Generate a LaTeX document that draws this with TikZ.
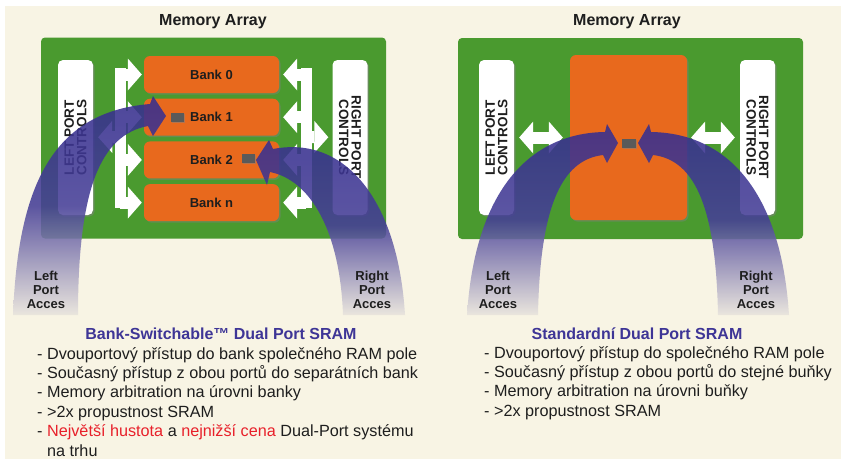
\documentclass[tikz,border=0pt]{standalone}
\usepackage{fontspec}
\setmainfont{Liberation Sans}
\usepackage{tikz}
\usetikzlibrary{positioning,shapes,shadows,arrows.meta}

\definecolor{cream}{HTML}{F8F4E4}
\definecolor{boardgreen}{HTML}{4A9A2F}
\definecolor{bankorange}{HTML}{E8691D}
\definecolor{arcpurple}{HTML}{362E8E}
\definecolor{titlepurple}{HTML}{3E3596}
\definecolor{hotred}{HTML}{E8202A}
\definecolor{cellgray}{HTML}{5A5A5A}
\definecolor{inktext}{HTML}{1E1E1E}

\tikzstyle{board}=[rectangle, fill=boardgreen, rounded corners=4pt, minimum width=345pt, minimum height=201pt, inner sep=0]
\tikzstyle{bank}=[rectangle, fill=bankorange, rounded corners=6pt, minimum width=135pt, minimum height=37pt, inner sep=0, text centered, text=inktext, font=\bfseries\fontsize{13}{15}\selectfont, drop shadow={shadow xshift=1.5pt, shadow yshift=-1.5pt, opacity=0.45}]
\tikzstyle{ctrlbox}=[rectangle, fill=white, rounded corners=5pt, minimum width=35pt, minimum height=155pt, inner sep=0, drop shadow={shadow xshift=1.5pt, shadow yshift=-1.5pt, opacity=0.5}]
\tikzstyle{ctrltext}=[align=center, text=inktext, inner sep=0, font=\bfseries\fontsize{13.5}{12.5}\selectfont]
\tikzstyle{cell}=[rectangle, fill=cellgray, minimum width=13pt, minimum height=9pt, inner sep=0, drop shadow={shadow xshift=1pt, shadow yshift=-1pt, opacity=0.5}]
\tikzstyle{arraytitle}=[text=inktext, font=\bfseries\fontsize{16}{19}\selectfont]
\tikzstyle{accesstext}=[align=center, text=inktext, inner sep=0, font=\bfseries\fontsize{13}{14}\selectfont]
\tikzstyle{headtext}=[text=titlepurple, inner sep=0, font=\bfseries\fontsize{16}{19}\selectfont]
\tikzstyle{listtext}=[align=left, text=inktext, inner sep=0, font=\fontsize{16.2}{19.4}\selectfont]
\tikzset{>={Triangle[width=32pt,length=14pt,line width=0pt]}}
\tikzset{busarrow/.style={draw=white, line width=12pt, ->},
         busbar/.style={draw=white, line width=11pt},
         arcband/.style={top color=arcpurple, bottom color=arcpurple!8!cream, middle color=arcpurple!92!white, fill opacity=0.88}}

\begin{document}
\begin{tikzpicture}[x=1pt, y=-1pt]
    \useasboundingbox (0,0) rectangle (841,459);
    \fill[white] (0,0) rectangle (841,459);
    \fill[cream] (5,6) rectangle (841,459);

    % bank-switchable array
    \node (titleL) [arraytitle] at (213,22) {Memory Array};
    \node (boardL) [board] at (213.5,138) {};
    \node (lpcL) [ctrlbox] at (75.5,137.5) {};
    \node (lpcLtext) [ctrltext, rotate=90] at (lpcL) {LEFT PORT\\CONTROLS};
    \node (rpcL) [ctrlbox] at (350,137.5) {};
    \node (rpcLtext) [ctrltext, rotate=-90] at (rpcL) {RIGHT PORT\\CONTROLS};

    \node (bank0) [bank] at (211.5,74.5) {Bank 0};
    \foreach \b [remember=\b as \lastb (initially 0)] in {1,2,n}{
        \node (bank\b) [bank, below=5.3pt of bank\lastb] {Bank \b};
    };

    \coordinate (busLtop) at (120,68);
    \coordinate (busLbot) at (120,208);
    \coordinate (busRtop) at (306,68);
    \coordinate (busRbot) at (306,208);
    \draw [busbar] (busLtop) -- (busLbot);
    \draw [busbar] (busRtop) -- (busRbot);
    \foreach \b in {0,1,2,n}{
        \draw [busarrow, shorten >=2pt] (busLtop|-bank\b) -- (bank\b.west);
        \draw [busarrow, shorten >=4pt] (busRtop|-bank\b) -- (bank\b.east);
    };
    \coordinate (busLport) at (120,137);
    \coordinate (busRport) at (306,137);
    \draw [busarrow, shorten >=5pt] (busLport) -- (lpcL);
    \draw [busarrow, shorten >=4pt] (busRport) -- (rpcL);

    % port access arcs
    \shade [arcband] (13,315) .. controls (18,190) and (50,112) .. (150,104) -- (153,96) -- (166,116) -- (153,136) -- (148,126) .. controls (100,135) and (78,190) .. (78,315) -- cycle;
    \shade [arcband] (405,315) .. controls (398,200) and (345,135) .. (273,149) -- (269,140) -- (256,160) -- (267,185) -- (270,172) .. controls (310,180) and (340,230) .. (343,315) -- cycle;

    \node (cell1) [cell] at (177.5,117.5) {};
    \node (cell2) [cell] at (248.5,158.5) {};

    \node (lpaL) [accesstext] at (46,290) {Left\\Port\\Acces};
    \node (rpaL) [accesstext] at (372,290) {Right\\Port\\Acces};

    \node (headL) [headtext, anchor=base] at (221,339) {Bank-Switchable™ Dual Port SRAM};
    \node (listL) [listtext, anchor=base west] at (37,456) {- Dvouportový přístup do bank společného RAM pole\\
        - Současný přístup z obou portů do separátních bank\\
        - Memory arbitration na úrovni banky\\
        - >2x propustnost SRAM\\
        - \textcolor{hotred}{Největší hustota} a \textcolor{hotred}{nejnižší cena} Dual-Port systému\\
        \phantom{-~}na trhu};

    % standard array
    \node (titleR) [arraytitle] at (627,22) {Memory Array};
    \node (boardR) [board] at (630.5,138.5) {};
    \node (lpcR) [ctrlbox] at (496.5,137.5) {};
    \node (lpcRtext) [ctrltext, rotate=90] at (lpcR) {LEFT PORT\\CONTROLS};
    \node (rpcR) [ctrlbox] at (757.5,137.5) {};
    \node (rpcRtext) [ctrltext, rotate=-90] at (rpcR) {RIGHT PORT\\CONTROLS};
    \node (array) [bank, minimum width=117pt, minimum height=165pt] at (628.5,137.5) {};

    \draw [busarrow, <->, shorten <=5pt, shorten >=7pt] (lpcR) -- (array);
    \draw [busarrow, <->, shorten <=4pt, shorten >=5pt] (array) -- (rpcR);

    \shade [arcband] (467,315) .. controls (475,190) and (530,133) .. (605,132) -- (607,124) -- (618,143) -- (607,163) -- (603,155) .. controls (560,160) and (540,210) .. (538,315) -- cycle;
    \shade [arcband] (789,315) .. controls (781,190) and (726,133) .. (651,132) -- (649,124) -- (638,143) -- (649,163) -- (653,155) .. controls (696,160) and (716,210) .. (718,315) -- cycle;

    \node (cell3) [cell, minimum width=14pt] at (629,143.5) {};

    \node (lpaR) [accesstext] at (498,290) {Left\\Port\\Acces};
    \node (rpaR) [accesstext] at (756,290) {Right\\Port\\Acces};

    \node (headR) [headtext, anchor=base] at (637,339) {Standardní Dual Port SRAM};
    \node (listR) [listtext, anchor=base west] at (484,416.2) {- Dvouportový přístup do společného RAM pole\\
        - Současný přístup z obou portů do stejné buňky\\
        - Memory arbitration na úrovni buňky\\
        - >2x propustnost SRAM};

\end{tikzpicture}
\end{document}
